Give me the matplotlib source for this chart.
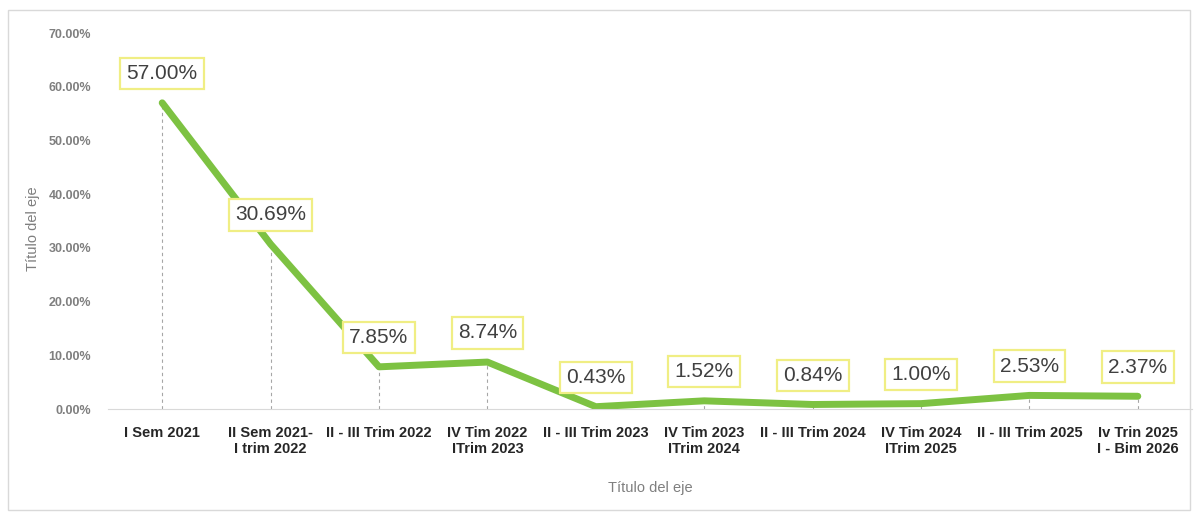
import numpy as np
import matplotlib.pyplot as plt
from matplotlib.patches import Rectangle
from matplotlib.ticker import FuncFormatter

periodos = ["I Sem 2021", "II Sem 2021-\nI trim 2022", "II - III Trim 2022",
            "IV Tim 2022\nITrim 2023", "II - III Trim 2023", "IV Tim 2023\nITrim 2024",
            "II - III Trim 2024", "IV Tim 2024\nITrim 2025", "II - III Trim 2025",
            "Iv Trin 2025\nI - Bim 2026"]
valores = [57.00, 30.69, 7.85, 8.74, 0.43, 1.52, 0.84, 1.00, 2.53, 2.37]
yticks = [0, 10, 20, 30, 40, 50, 60, 70]

fam = ["Liberation Sans Narrow", "Liberation Sans", "DejaVu Sans"]
plt.rcParams['font.family'] = fam

fig = plt.figure(figsize=(11.95, 5.14), dpi=100)
fig.patches.append(Rectangle((8/1195, 4/514), 1182/1195, 500/514, transform=fig.transFigure,
                             fill=False, edgecolor="#d9d9d9", lw=1))
ax = fig.add_axes([108/1195, 1-409/514, 1084/1195, 376/514])

x = np.arange(len(valores))
ax.vlines(x, 0, valores, colors="#a6a6a6", linestyles=(0, (3, 3)), lw=0.8, zorder=1)
ax.plot(x, valores, color="#7dc242", lw=5, solid_capstyle="round", solid_joinstyle="round", zorder=2)

for xi, v in zip(x, valores):
    ax.annotate("%.2f%%" % v, (xi, v), xytext=(0, 21), textcoords="offset points",
                ha="center", va="center", fontsize=15, color="#404040",
                bbox=dict(boxstyle="square,pad=0.3", fc="white", ec="#f0ee84", lw=1.6), zorder=3)

ax.set_xlim(-0.5, len(valores) - 0.5)
ax.set_ylim(0, 70)
ax.set_yticks(yticks)
ax.yaxis.set_major_formatter(FuncFormatter(lambda v, p: "%.2f%%" % v))
ax.set_xticks(x)
ax.set_xticklabels(periodos, fontsize=10.5, fontweight="bold", color="#262626")
for t in ax.get_yticklabels():
    t.set_fontsize(9)
    t.set_fontweight("bold")
    t.set_color("#7f7f7f")

for s in ["top", "right", "left"]:
    ax.spines[s].set_visible(False)
ax.spines["bottom"].set_color("#d9d9d9")
ax.tick_params(axis="both", length=0)
ax.tick_params(axis="x", pad=12)
ax.tick_params(axis="y", pad=12)

ax.set_xlabel("Título del eje", fontsize=10.5, color="#7f7f7f", labelpad=18)
ax.set_ylabel("Título del eje", fontsize=10.5, color="#7f7f7f")
ax.yaxis.set_label_coords(-0.063, 0.48)

fig.savefig("out.png", dpi=100)
